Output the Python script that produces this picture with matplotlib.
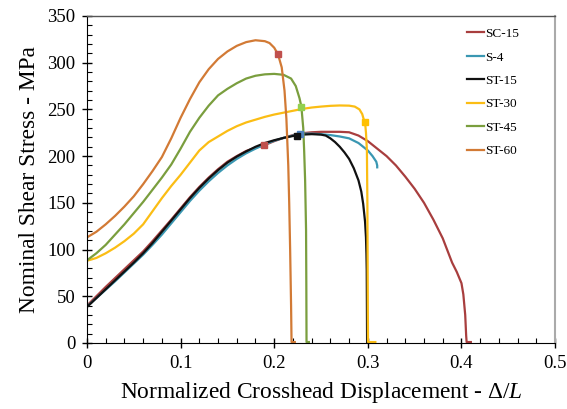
import matplotlib
matplotlib.use("Agg")
import matplotlib.pyplot as plt
from matplotlib.ticker import MultipleLocator

plt.rcParams["font.family"] = ["Liberation Serif", "DejaVu Serif"]
plt.rcParams["mathtext.fontset"] = "custom"
plt.rcParams["mathtext.rm"] = "Liberation Serif"
plt.rcParams["mathtext.it"] = "Liberation Serif:italic"

# curves (displacement, stress in MPa)
sc15_x = [0, .01, .02, .03, .04, .05, .06, .07, .08, .09, .10, .11, .12, .13, .14, .15, .16, .17,
          .18, .189, .20, .21, .22, .23, .24, .25, .26, .27, .28, .29, .30, .31, .32, .33, .34,
          .35, .36, .37, .38, .39, .395, .40, .402, .404, .405, .4055, .41]
sc15_y = [40, 50, 60, 69.5, 79, 88.5, 98, 109, 120.5, 132, 144, 156, 167, 177, 186, 194, 200,
          205.5, 209, 211.5, 216, 219.5, 222.5, 224.5, 225.5, 226, 226, 226, 225.5, 222, 216,
          208, 200, 190, 178, 165, 150, 132, 112, 86, 76, 64, 52, 30, 8, 1, 1]

s4_x = [0, .01, .02, .03, .04, .05, .06, .07, .08, .09, .10, .11, .12, .13, .14, .15, .16, .17,
        .18, .19, .20, .21, .22, .2276, .24, .25, .26, .27, .28, .29, .30, .305, .309, .31, .31]
s4_y = [39, 48, 57, 66, 75.5, 85, 94.5, 105, 116, 128, 140, 152, 163, 173, 182, 190, 197, 203,
        208, 212.5, 216.5, 219.5, 222, 224, 224, 223.5, 222.5, 221, 219, 214, 206, 200, 194,
        190, 188]

st15_x = [0, .01, .02, .03, .04, .05, .06, .07, .08, .09, .10, .11, .12, .13, .14, .15, .16, .17,
          .18, .19, .20, .21, .22, .224, .23, .24, .25, .255, .26, .265, .27, .275, .28, .285,
          .29, .293, .295, .297, .298, .2985, .2988, .299, .2992]
st15_y = [38.5, 48, 57.5, 67, 76.5, 86, 96, 107, 119, 131, 143, 155, 166, 176, 185, 193, 199.5,
          205, 210, 214, 217, 219.5, 221.5, 222, 223, 223.5, 223, 222, 219, 215, 210, 204, 197,
          187, 174, 162, 149, 130, 113, 95, 78, 40, 0]

st30_x = [0, .01, .02, .03, .04, .05, .06, .07, .08, .09, .10, .11, .12, .13, .14, .15, .16, .17,
          .18, .19, .20, .21, .22, .23, .24, .25, .26, .27, .28, .286, .291, .294, .296, .297,
          .298, .299, .2995, .2998, .300, .3002, .308]
st30_y = [88, 91, 96, 102, 109, 117, 127, 141, 155, 168, 180, 193, 206, 215, 221, 227, 232, 236,
          239, 242, 244.5, 246.5, 248.5, 250.5, 252, 253, 253.8, 254.2, 254, 253, 250, 245, 238,
          236.5, 225, 206, 150, 80, 30, 1, 1]

st45_x = [0, .01, .02, .03, .04, .05, .06, .07, .08, .09, .10, .11, .12, .13, .14, .15, .16, .17,
          .18, .19, .20, .21, .218, .223, .227, .229, .231, .232, .233, .234, .2343, .2345, .237]
st45_y = [88.5, 96, 105, 116, 127, 139, 151, 164, 177, 191, 208, 226, 241, 254, 265, 272, 278,
          283, 286, 287.5, 288, 287, 283, 275, 262, 253, 230, 205, 174, 121, 60, 1, 1]

st60_x = [0, .01, .02, .03, .04, .05, .06, .07, .08, .09, .10, .11, .12, .13, .14, .15, .16, .17,
          .18, .19, .195, .20, .204, .208, .211, .213, .215, .216, .217, .218, .2185, .222]
st60_y = [113, 119, 127, 136, 146, 157, 170, 184, 199, 219, 241, 261, 279, 293, 304, 312, 318,
          322, 324, 323, 321, 316, 309, 295, 270, 240, 190, 150, 100, 40, 1, 1]

labels = ["SC-15", "S-4", "ST-15", "ST-30", "ST-45", "ST-60"]
colors = ["#a83e3e", "#3a97b2", "#111111", "#fbbd14", "#7a9e3e", "#d27a35"]

# square markers on each curve
mark_x = [0.189, 0.2276, 0.224, 0.297, 0.229, 0.204]
mark_y = [211.5, 224, 222, 236.5, 253, 309]
mark_c = ["#c0504d", "#4f81bd", "#111111", "#ffc000", "#92d050", "#c0504d"]

curves = [(sc15_x, sc15_y), (s4_x, s4_y), (st15_x, st15_y),
          (st30_x, st30_y), (st45_x, st45_y), (st60_x, st60_y)]

fig = plt.figure(figsize=(5.67, 4.09), dpi=100)
ax = fig.add_axes([0.1534, 0.1614, 0.8256, 0.7996])

for (x, y), lab, c in zip(curves, labels, colors):
    ax.plot(x, y, color=c, lw=1.6, label=lab, solid_joinstyle="round")
for mx, my, mc in zip(mark_x, mark_y, mark_c):
    ax.plot(mx, my, "s", color=mc, ms=5, zorder=5)

ax.set_xlim(0, 0.5)
ax.set_ylim(0, 350)
ax.xaxis.set_minor_locator(MultipleLocator(0.02))
ax.yaxis.set_major_locator(MultipleLocator(50))
ax.yaxis.set_minor_locator(MultipleLocator(10))
ax.set_xticks([0, 0.1, 0.2, 0.3, 0.4, 0.5], ["0", "0.1", "0.2", "0.3", "0.4", "0.5"])
ax.tick_params(which="major", direction="inout", length=7, width=1, labelsize=13.5, pad=5)
ax.tick_params(which="minor", direction="in", length=3.5, width=0.8)
ax.tick_params(top=False, right=False, which="both")

ax.spines["left"].set_color("black")
ax.spines["bottom"].set_color("black")
ax.spines["top"].set_color("#555555")
ax.spines["right"].set_color("#aaaaaa")
ax.spines["top"].set_linewidth(1)
ax.spines["right"].set_linewidth(1.5)

ax.set_xlabel(r"Normalized Crosshead Displacement - $\mathit{\Delta/L}$", fontsize=16.8, labelpad=6)
ax.set_ylabel("Nominal Shear Stress - MPa", fontsize=16.8, labelpad=5)

ax.legend(loc="upper right", frameon=False, fontsize=9.5, handlelength=1.3,
          handletextpad=0.1, labelspacing=0.85, bbox_to_anchor=(0.948, 1.0))

fig.savefig("out.png", dpi=100)
